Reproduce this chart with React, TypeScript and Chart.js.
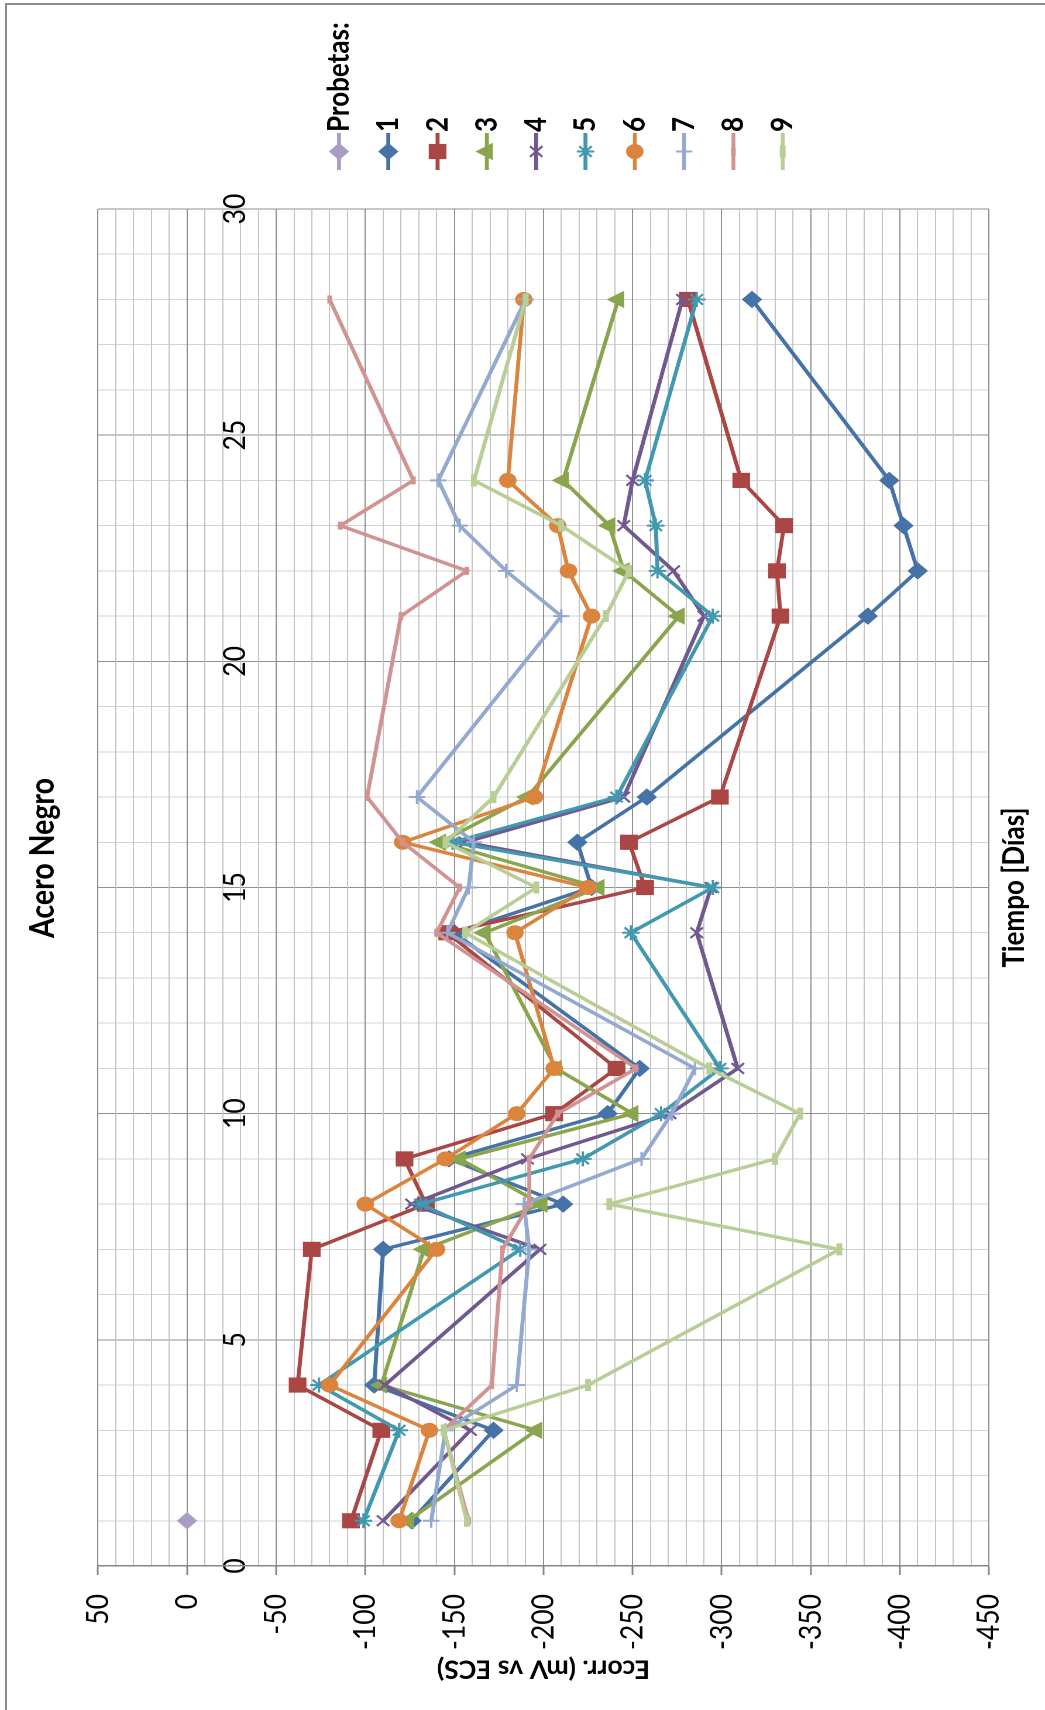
import React, { useEffect, useRef } from 'react';
import { Chart, registerables, PointElement } from 'chart.js';

Chart.register(...registerables);

// ---- Data ----
const titulo = 'Acero Negro';
const tituloX = 'Tiempo [Días]';
const tituloY = 'Ecorr. (mV vs ECS)';
const leyendaTitulo = 'Probetas:';

const dias = [1, 3, 4, 7, 8, 9, 10, 11, 14, 15, 16, 17, 21, 22, 23, 24, 28];
const probetasDias = [1];
const probetasValores = [0];

const nombres = ['1', '2', '3', '4', '5', '6', '7', '8', '9'];
const p1 = [-126, -172, -105, -110, -211, -147, -236, -254, -150, -227, -219, -258, -382, -410, -402, -394, -317];
const p2 = [-92, -109, -62, -70, -134, -122, -206, -241, -146, -257, -248, -299, -333, -331, -335, -311, -281];
const p3 = [-124, -196, -109, -133, -199, -153, -250, -207, -167, -231, -142, -191, -276, -245, -237, -211, -242];
const p4 = [-110, -159, -111, -198, -126, -191, -271, -309, -286, -294, -156, -245, -290, -273, -245, -250, -278];
const p5 = [-99, -119, -74, -187, -131, -222, -266, -299, -249, -295, -149, -241, -295, -264, -263, -257, -286];
const p6 = [-119, -136, -80, -140, -100, -145, -185, -206, -184, -225, -121, -195, -227, -214, -208, -180, -189];
const p7 = [-137, -145, -185, -192, -189, -255, -272, -285, -146, -158, -161, -129, -210, -179, -153, -141, -190];
const p8 = [-158, -144, -171, -177, -192, -192, -208, -252, -140, -153, -121, -101, -120, -157, -86, -127, -80];
const p9 = [-157, -144, -225, -366, -237, -330, -344, -293, -156, -196, -145, -172, -235, -248, -210, -161, -190];
const series = [p1, p2, p3, p4, p5, p6, p7, p8, p9];

const xMin = 0, xMax = 30, xStep = 1, xMajor = 5;
const yMin = -450, yMax = 50, yStep = 10, yMajor = 50;

// ---- Styles ----
const colores = ['#4572A7', '#AA4643', '#89A54E', '#71588F', '#4198AF', '#DB843D', '#93A9CF', '#D19392', '#B9CD96'];
const colorProbetas = '#A99CC5';
const marcadores: any[] = [
  { pointStyle: 'rectRot', radius: 8, bw: 1 },
  { pointStyle: 'rect', radius: 10, bw: 1 },
  { pointStyle: 'triangle', radius: 9, bw: 1 },
  { pointStyle: 'crossRot', radius: 7.5, bw: 2 },
  { pointStyle: 'star', radius: 7.5, bw: 2 },
  { pointStyle: 'circle', radius: 7, bw: 1 },
  { pointStyle: 'cross', radius: 7, bw: 2 },
  { pointStyle: 'line', radius: 4, bw: 4 },
  { pointStyle: 'line', radius: 6, bw: 5 },
];
const FONT = 'Lato';
const W = 1710;            // chart-frame width (screen height)
const SCREEN_W = 1045;     // screen width
const H = 893;             // chart-frame canvas height before stretch
const K = SCREEN_W / H;    // vertical stretch of the chart frame

const textPlugin = {
  id: 'textosLeyenda',
  afterDraw(chart: any) {
    const ctx = chart.ctx;
    const ca = chart.chartArea;
    ctx.save();
    ctx.fillStyle = '#000';
    ctx.textAlign = 'center';
    ctx.textBaseline = 'middle';
    ctx.font = `bold 28.5px ${FONT}`;
    ctx.fillText(titulo, 852, 43 / K);
    ctx.font = `bold 26px ${FONT}`;
    ctx.fillText(tituloX, (ca.left + ca.right) / 2, 1014 / K);

    // y-axis title (condensed along its length)
    ctx.save();
    ctx.translate(41, (ca.top + ca.bottom) / 2);
    ctx.rotate(-Math.PI / 2);
    ctx.scale(0.875, 1);
    ctx.font = `bold 26px ${FONT}`;
    ctx.fillText(tituloY, 0, 0);
    ctx.restore();

    // legend
    const area = { left: 0, top: 0, right: chart.width, bottom: chart.height };
    chart.data.datasets.forEach((ds: any, i: number) => {
      const y = (339 + i * 49.3) / K;
      ctx.save();
      ctx.strokeStyle = ds.borderColor;
      ctx.lineWidth = 3.3;
      ctx.beginPath();
      ctx.moveTo(1540, y);
      ctx.lineTo(1577, y);
      ctx.stroke();
      ctx.restore();
      const el: any = new (PointElement as any)({
        x: 1558.5,
        y,
        options: {
          pointStyle: ds.pointStyle,
          radius: ds.pointRadius,
          borderWidth: ds.pointBorderWidth,
          borderColor: ds.pointBorderColor,
          backgroundColor: ds.pointBackgroundColor,
          rotation: 0,
        },
      });
      ctx.save();
      el.draw(ctx, area);
      ctx.restore();
      ctx.fillStyle = '#000';
      ctx.textAlign = 'left';
      ctx.textBaseline = 'middle';
      ctx.font = `bold 26px ${FONT}`;
      ctx.fillText(ds.label, 1578, y);
    });
    ctx.restore();
  },
};

export default function App() {
  const ref = useRef<HTMLCanvasElement | null>(null);

  useEffect(() => {
    if (!ref.current) return;
    const datasets: any[] = [
      {
        label: leyendaTitulo,
        data: probetasDias.map((d, i) => ({ x: d, y: probetasValores[i] })),
        showLine: false,
        borderColor: colorProbetas,
        borderWidth: 3.3,
        pointStyle: 'rectRot',
        pointRadius: 8,
        pointBorderWidth: 1,
        pointBorderColor: colorProbetas,
        pointBackgroundColor: colorProbetas,
        order: 10,
      },
      ...series.map((vals, i) => ({
        label: nombres[i],
        data: dias.map((d, j) => ({ x: d, y: vals[j] })),
        showLine: true,
        tension: 0,
        fill: false,
        borderColor: colores[i],
        borderWidth: 3.4,
        pointStyle: marcadores[i].pointStyle,
        pointRadius: marcadores[i].radius,
        pointBorderWidth: marcadores[i].bw,
        pointBorderColor: colores[i],
        pointBackgroundColor: colores[i],
        order: 9 - i,
      })),
    ];

    const chart = new Chart(ref.current, {
      type: 'scatter',
      data: { datasets },
      options: {
        responsive: false,
        animation: false,
        devicePixelRatio: 2,
        layout: { padding: { top: 98 / K, right: W - 1501, bottom: H - 989 / K, left: 0 } },
        plugins: {
          legend: { display: false },
          tooltip: { enabled: false },
          title: { display: false },
        },
        elements: { point: { hoverRadius: 8 } },
        scales: {
          x: {
            type: 'linear',
            position: { y: 0 } as any,
            min: xMin,
            max: xMax,
            ticks: {
              stepSize: xStep,
              autoSkip: false,
              maxRotation: 0,
              minRotation: 0,
              padding: 25,
              color: '#000',
              font: { family: FONT, size: 26.5 },
              callback: (v: any) => (Math.round(v) % xMajor === 0 ? String(Math.round(v)) : ''),
            },
            grid: {
              drawTicks: false,
              color: (c: any) => (Math.round(c.tick.value) % xMajor === 0 ? '#8f8f8f' : '#d3d3d3'),
              lineWidth: 1,
            },
            border: { display: true, color: '#8f8f8f', width: 1 },
          },
          y: {
            type: 'linear',
            position: 'left',
            min: yMin,
            max: yMax,
            afterFit: (s: any) => {
              s.width = 144;
            },
            ticks: {
              stepSize: yStep,
              autoSkip: false,
              padding: 19,
              color: '#000',
              font: { family: FONT, size: 26.5 },
              callback: (v: any) => (Math.round(v) % yMajor === 0 ? String(Math.round(v)) : ''),
            },
            grid: {
              drawTicks: true,
              tickLength: 9,
              tickWidth: 1.5,
              tickColor: (c: any) => (Math.round(c.tick.value) % yMajor === 0 ? '#868686' : 'rgba(0,0,0,0)'),
              color: (c: any) => (Math.round(c.tick.value) % yMajor === 0 ? '#8f8f8f' : '#c4c4c4'),
              lineWidth: 1,
            },
            border: { display: true, color: '#868686', width: 1.5 },
            title: { display: false },
          },
        },
      },
      plugins: [textPlugin],
    } as any);

    return () => chart.destroy();
  }, []);

  return (
    <div style={{ position: 'absolute', left: 0, top: 0, width: SCREEN_W, height: W, overflow: 'hidden', background: '#fff' }}>
      <div
        style={{
          position: 'absolute',
          left: 0,
          top: 0,
          width: W,
          height: H,
          transformOrigin: '0 0',
          transform: `matrix(0,-1,${K},0,0,${W})`,
        }}
      >
        <canvas ref={ref} width={W} height={H} style={{ width: W, height: H, display: 'block' }} />
      </div>
      <div
        style={{
          position: 'absolute',
          left: 5,
          top: 3,
          width: SCREEN_W,
          height: W,
          borderLeft: '2px solid #8c8c8c',
          borderTop: '2px solid #8c8c8c',
          boxSizing: 'border-box',
          pointerEvents: 'none',
        }}
      />
    </div>
  );
}
